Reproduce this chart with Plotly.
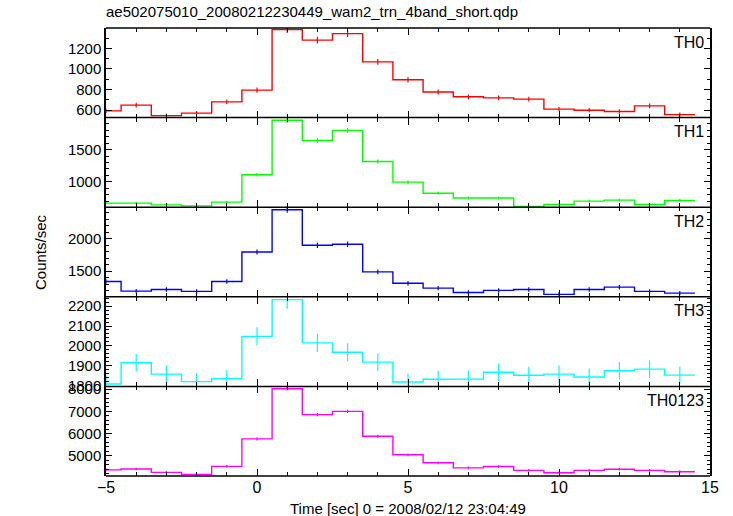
import plotly.graph_objects as go
from plotly.subplots import make_subplots

time_centers = [-5, -4, -3, -2, -1, 0, 1, 2, 3, 4, 5, 6, 7, 8, 9, 10, 11, 12, 13, 14]
bin_halfwidth = 0.5

th0 = [593, 649, 547, 571, 681, 795, 1382, 1280, 1343, 1069, 896, 776, 730, 720, 707, 610, 600, 587, 642, 557]
th0_err = [20, 22, 20, 20, 22, 25, 33, 32, 33, 28, 26, 24, 23, 23, 23, 21, 21, 21, 22, 20]

th1 = [669, 669, 642, 627, 685, 1110, 1957, 1642, 1800, 1315, 995, 822, 748, 748, 617, 648, 700, 716, 648, 711]
th1_err = [22, 22, 21, 21, 22, 28, 40, 36, 38, 31, 27, 24, 23, 23, 21, 22, 22, 23, 22, 22]

th2 = [1342, 1194, 1220, 1190, 1342, 1795, 2443, 1898, 1913, 1490, 1315, 1240, 1174, 1205, 1220, 1144, 1220, 1255, 1190, 1164]
th2_err = [35, 33, 34, 33, 35, 40, 46, 41, 42, 37, 35, 34, 33, 34, 34, 33, 34, 34, 33, 33]

th3 = [1808, 1915, 1858, 1820, 1835, 2048, 2233, 2015, 1968, 1918, 1818, 1832, 1833, 1867, 1852, 1858, 1843, 1875, 1883, 1853]
th3_err = [42, 44, 43, 43, 43, 46, 48, 46, 45, 44, 43, 43, 43, 44, 43, 43, 43, 44, 44, 43]

th0123 = [4360, 4400, 4250, 4160, 4520, 5760, 8018, 6852, 7000, 5880, 5040, 4680, 4450, 4510, 4340, 4230, 4340, 4390, 4340, 4280]
th0123_err = [60, 60, 59, 58, 61, 69, 81, 75, 76, 70, 65, 62, 61, 61, 60, 59, 60, 60, 60, 59]

panels = [
    ("TH0", th0, th0_err, "#ff0000", [528, 1398], 200, 100),
    ("TH1", th1, th1_err, "#00ff00", [606, 1998], 500, 100),
    ("TH2", th2, th2_err, "#0000ff", [1107, 2483], 500, 100),
    ("TH3", th3, th3_err, "#00ffff", [1796, 2247], 100, 20),
    ("TH0123", th0123, th0123_err, "#ff00ff", [4085, 8125], 1000, 200),
]

title_text = "ae502075010_20080212230449_wam2_trn_4band_short.qdp"
x_title = "Time [sec] 0 = 2008/02/12 23:04:49"
y_title = "Counts/sec"

W, H = 733, 516
ML, MR, MT, MB = 106, 23, 28, 40
PW, PH = W - ML - MR, H - MT - MB

fig = make_subplots(rows=5, cols=1, shared_xaxes=True, vertical_spacing=0)

FONT = "Liberation Sans, Arial, Helvetica, sans-serif"

for i, (name, vals, errs, color, yr, dt, mdt) in enumerate(panels, start=1):
    sx, sy = [], []
    for c, v in zip(time_centers, vals):
        sx += [c - bin_halfwidth, c + bin_halfwidth]
        sy += [v, v]
    fig.add_trace(go.Scatter(x=sx, y=sy, mode="lines",
                             line=dict(color=color, width=1.4),
                             showlegend=False, hoverinfo="skip"), row=i, col=1)
    fig.add_trace(go.Scatter(x=time_centers, y=vals, mode="markers",
                             marker=dict(size=0.1, color=color, opacity=0),
                             error_y=dict(type="data", array=errs, visible=True,
                                          color=color, thickness=1.2, width=0),
                             showlegend=False), row=i, col=1)
    fig.update_yaxes(range=yr, dtick=dt, tick0=0, ticks="inside", ticklen=6,
                     tickwidth=1, tickcolor="black", mirror="allticks",
                     showline=True, linecolor="black", linewidth=1.5,
                     showgrid=False, zeroline=False, automargin=False,
                     tickfont=dict(family=FONT, size=15, color="black"),
                     minor=dict(dtick=mdt, ticks="inside", ticklen=3,
                                tickcolor="black", showgrid=False),
                     row=i, col=1)
    fig.update_xaxes(range=[-5, 15], dtick=5, tick0=0, ticks="inside", ticklen=7,
                     tickwidth=1, tickcolor="black", mirror="allticks",
                     showline=False, showgrid=False, zeroline=False,
                     automargin=False, showticklabels=(i == 5),
                     tickfont=dict(family=FONT, size=16, color="black"),
                     minor=dict(dtick=1, ticks="inside", ticklen=4,
                                tickcolor="black", showgrid=False),
                     row=i, col=1)
    yref = "y domain" if i == 1 else f"y{i} domain"
    xref = "x domain" if i == 1 else f"x{i} domain"
    fig.add_annotation(text=name, xref=xref, yref=yref, x=0.993, y=0.96,
                       xanchor="right", yanchor="top", showarrow=False,
                       font=dict(family=FONT, size=16, color="black"))

# panel boundary lines (single line between stacked panels)
for k in range(6):
    fig.add_shape(type="line", xref="paper", yref="paper", x0=0, x1=1,
                  y0=k / 5, y1=k / 5, line=dict(color="black", width=1.5))

fig.add_annotation(text=x_title, xref="paper", yref="paper", x=0.5,
                   y=-(508 - (H - MB)) / PH, showarrow=False,
                   xanchor="center", yanchor="middle",
                   font=dict(family=FONT, size=15, color="black"))

fig.add_annotation(text=y_title, xref="paper", yref="paper", x=(40 - ML) / PW, y=0.5,
                   textangle=-90, showarrow=False, xanchor="center", yanchor="middle",
                   font=dict(family=FONT, size=15, color="black"))

fig.update_layout(
    width=W, height=H,
    margin=dict(l=ML, r=MR, t=MT, b=MB),
    paper_bgcolor="white", plot_bgcolor="white",
    title=dict(text=title_text, x=ML / W, xanchor="left", y=1 - 12 / H, yanchor="middle",
               font=dict(family=FONT, size=15, color="black")),
)

fig.write_html("out.html", config={"displayModeBar": False},
               post_script="document.body.style.margin='0px';")
